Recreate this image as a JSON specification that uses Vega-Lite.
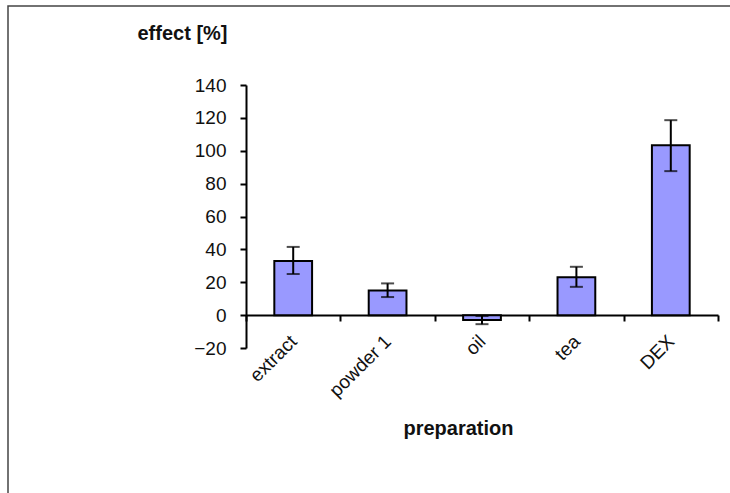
{
  "$schema": "https://vega.github.io/schema/vega-lite/v6.json",
  "autosize": {"type": "none"},
  "padding": {"left": 8, "top": 6, "right": -3, "bottom": -3},
  "width": 725,
  "height": 490,
  "background": "white",
  "config": {
    "view": {"stroke": "#444444", "strokeWidth": 1.5, "fill": "white"},
    "font": "Liberation Sans",
    "axis": {
      "labelFont": "Liberation Sans",
      "titleFont": "Liberation Sans",
      "labelColor": "#111111",
      "titleColor": "#111111",
      "domainColor": "black",
      "tickColor": "black",
      "domainWidth": 2,
      "tickWidth": 2,
      "tickSize": 6,
      "grid": false
    }
  },
  "data": {
    "values": [
      {"preparation": "extract", "effect": 33, "low": 25, "high": 41.5},
      {"preparation": "powder 1", "effect": 15, "low": 11, "high": 19.3},
      {"preparation": "oil", "effect": -3, "low": -5.5, "high": -0.5},
      {"preparation": "tea", "effect": 23, "low": 17.2, "high": 29.4},
      {"preparation": "DEX", "effect": 103.4, "low": 87.6, "high": 118.6}
    ]
  },
  "encoding": {
    "x": {
      "field": "preparation",
      "type": "nominal",
      "sort": null,
      "scale": {"range": [238, 710], "paddingInner": 0, "paddingOuter": 0},
      "axis": {
        "offset": -181,
        "tickBand": "extent",
        "labelAngle": -45,
        "labelAlign": "right",
        "labelBaseline": "middle",
        "labelFontSize": 19,
        "labelPadding": 17,
        "title": "preparation",
        "titleFontSize": 20,
        "titleFontWeight": "bold",
        "titleAnchor": "start",
        "titleAlign": "center",
        "titleBaseline": "middle",
        "titleX": 450,
        "titleY": 113
      }
    }
  },
  "layer": [
    {
      "mark": {"type": "bar", "width": {"band": 0.4}, "fill": "#9999ff", "stroke": "black", "strokeWidth": 2},
      "encoding": {
        "y": {
          "field": "effect",
          "type": "quantitative",
          "scale": {"domain": [-20, 140], "range": [342, 79], "nice": false},
          "axis": {
            "offset": -238,
            "values": [-20, 0, 20, 40, 60, 80, 100, 120, 140],
            "labelFontSize": 19,
            "labelPadding": 14,
            "title": "effect [%]",
            "titleAngle": 0,
            "titleFontSize": 20,
            "titleFontWeight": "bold",
            "titleAlign": "right",
            "titleBaseline": "middle",
            "titleAnchor": "start",
            "titleX": -19,
            "titleY": 27
          }
        }
      }
    },
    {
      "mark": {"type": "rule", "color": "black", "strokeWidth": 2},
      "encoding": {
        "y": {"field": "low", "type": "quantitative"},
        "y2": {"field": "high"}
      }
    },
    {
      "mark": {"type": "tick", "color": "black", "thickness": 2, "size": 13},
      "encoding": {"y": {"field": "low", "type": "quantitative"}}
    },
    {
      "mark": {"type": "tick", "color": "black", "thickness": 2, "size": 13},
      "encoding": {"y": {"field": "high", "type": "quantitative"}}
    }
  ]
}
